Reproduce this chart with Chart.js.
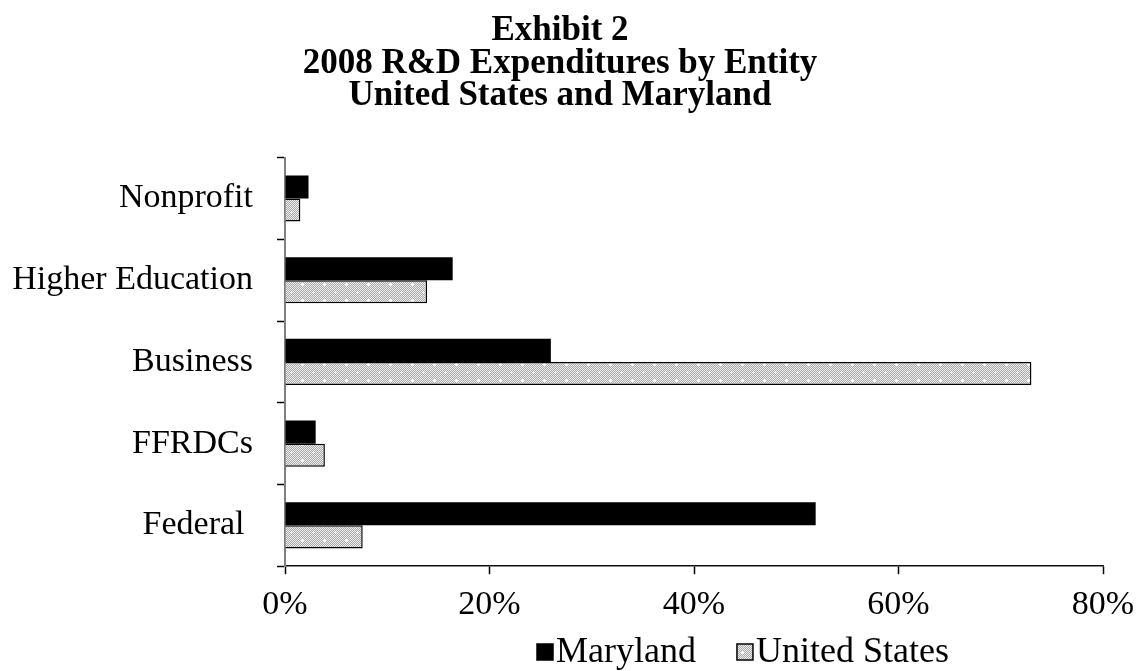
<!DOCTYPE html>
<html>
<head>
<meta charset="utf-8">
<script src="https://cdn.jsdelivr.net/npm/chart.js@4.4.0/dist/chart.umd.min.js"></script>
<style>
  html, body { margin: 0; padding: 0; background: #fff; }
  #wrap { width: 1138px; height: 671px; position: relative; }
</style>
</head>
<body>
<div id="wrap"><canvas id="chart_entity"></canvas></div>
<script>
const categories = ['Nonprofit', 'Higher Education', 'Business', 'FFRDCs', 'Federal '];
const maryland = [2.3, 16.4, 26.0, 3.0, 51.9];
const unitedStates = [1.5, 13.9, 73.0, 3.9, 7.6];
const xTicks = [0, 20, 40, 60, 80];
const titleLines = ['Exhibit 2', '2008 R&D Expenditures by Entity', 'United States and Maryland'];

const SERIF = '"Liberation Serif", "Times New Roman", serif';

// dotted grey fill like the original
function makePattern() {
  const c = document.createElement('canvas');
  c.width = 22; c.height = 16;
  const g = c.getContext('2d');
  for (let y = 0; y < 16; y++) {
    for (let x = 0; x < 22; x++) {
      g.fillStyle = (x + y) % 2 ? '#a9a9a9' : '#eeeeee';
      g.fillRect(x, y, 1, 1);
    }
  }
  g.fillStyle = '#ffffff';
  [[5, 4], [16, 12]].forEach(([x, y]) => {
    g.fillRect(x - 1, y, 3, 1);
    g.fillRect(x, y - 1, 1, 3);
  });
  return g.createPattern(c, 'repeat');
}

// legend with a tight box-text gap (built-in one puts fontSize/2 between them)
const bottomLegend = {
  id: 'bottomLegend',
  afterLayout(chart) {
    // title in the original sits a little left of centre
    chart.titleBlock.left -= 14;
    chart.titleBlock.right -= 14;
  },
  afterDraw(chart) {
    const g = chart.ctx;
    const area = chart.chartArea;
    let x = area.left + 252;
    const y = 652;
    g.save();
    g.font = '36px ' + SERIF;
    g.textBaseline = 'middle';
    chart.data.datasets.forEach(ds => {
      g.fillStyle = ds.backgroundColor;
      g.fillRect(x, y - 8, 16, 16);
      g.strokeStyle = '#000';
      g.lineWidth = 1.5;
      g.strokeRect(x, y - 8, 16, 16);
      g.fillStyle = '#000';
      g.fillText(ds.label, x + 19, y + 1);
      x += 19 + g.measureText(ds.label).width + 41;
    });
    g.restore();
  }
};

const ctx = document.getElementById('chart_entity');
const entityChart = new Chart(ctx, {
  type: 'bar',
  data: {
    labels: categories,
    datasets: [
      {
        label: 'Maryland',
        data: maryland,
        backgroundColor: '#000',
        borderColor: '#000',
        borderWidth: 0
      },
      {
        label: 'United States',
        data: unitedStates,
        backgroundColor: makePattern(),
        borderColor: '#000',
        borderWidth: 1.5
      }
    ]
  },
  plugins: [bottomLegend],
  options: {
    indexAxis: 'y',
    responsive: true,
    maintainAspectRatio: false,
    animation: false,
    layout: {
      padding: {left: 10, right: 0, top: 0, bottom: 36}
    },
    datasets: {
      bar: {categoryPercentage: 0.565, barPercentage: 1}
    },
    plugins: {
      title: {
        display: true,
        text: titleLines,
        color: '#000',
        font: {family: SERIF, size: 35, weight: 'bold', lineHeight: 0.93},
        padding: {top: 15, bottom: 45}
      },
      legend: {display: false},
      tooltip: {enabled: false}
    },
    scales: {
      x: {
        min: 0,
        max: 80,
        afterBuildTicks: axis => { axis.ticks = xTicks.map(v => ({value: v})); },
        afterFit: axis => { axis.paddingRight = 35; },
        ticks: {
          color: '#000',
          font: {family: SERIF, size: 34},
          padding: 10,
          maxRotation: 0,
          callback: v => v + '%'
        },
        grid: {drawOnChartArea: false, tickLength: 8, color: '#000', tickWidth: 1.5},
        border: {color: '#111', width: 1.5}
      },
      y: {
        afterFit: axis => { axis.width = 275; },
        ticks: {
          color: '#000',
          font: {family: SERIF, size: 34},
          padding: 24
        },
        grid: {offset: true, drawOnChartArea: false, tickLength: 8, color: '#000', tickWidth: 1.5},
        border: {color: '#808080', width: 2}
      }
    }
  }
});
</script>
</body>
</html>
